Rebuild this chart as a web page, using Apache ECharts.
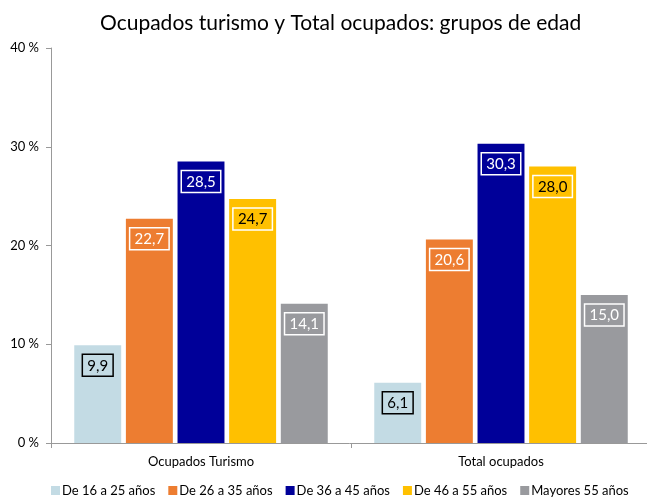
<!DOCTYPE html>
<html>
<head>
<meta charset="utf-8">
<script src="https://cdn.jsdelivr.net/npm/echarts@6/dist/echarts.min.js"></script>
<style>
html,body{margin:0;padding:0;background:#fff;}
#chart{width:647px;height:499px;}
</style>
</head>
<body>
<div id="chart"></div>
<script>
var categories = ['Ocupados Turismo', 'Total ocupados'];
var seriesNames = ['De 16 a 25 años', 'De 26 a 35 años', 'De 36 a 45 años', 'De 46 a 55 años', 'Mayores 55 años'];
var edad16_25 = [9.9, 6.1];
var edad26_35 = [22.7, 20.6];
var edad36_45 = [28.5, 30.3];
var edad46_55 = [24.7, 28.0];
var mayores55 = [14.1, 15.0];
var yTicks = [0, 10, 20, 30, 40];

var colors = ['#C3DBE4', '#ED7D31', '#000099', '#FFC000', '#999A9E'];
var textColors = ['#000', '#fff', '#fff', '#000', '#fff'];
var borderColors = ['#000', '#fff', '#fff', '#fff', '#fff'];
var allData = [edad16_25, edad26_35, edad36_45, edad46_55, mayores55];

var chart = echarts.init(document.getElementById('chart'));

var series = [];
for (var i = 0; i < allData.length; i++) {
	series.push({
		name: seriesNames[i],
		type: 'bar',
		data: allData[i],
		barGap: '10%',
		barCategoryGap: '15.5%',
		itemStyle: { color: colors[i] },
		label: {
			show: true,
			position: 'insideTop',
			distance: 9,
			fontFamily: 'Lato',
			fontSize: 15,
			color: textColors[i],
			borderColor: borderColors[i],
			borderWidth: 1.5,
			padding: [4, 5, 3, 5],
			formatter: function (p) {
				return p.value.toFixed(1).replace('.', ',');
			}
		}
	});
}

var option = {
	animation: false,
	textStyle: { fontFamily: 'Lato' },
	title: {
		text: 'Ocupados turismo y Total ocupados: grupos de edad',
		left: 95,
		top: 8,
		textStyle: { fontFamily: 'Lato', fontSize: 21, fontWeight: 'normal', color: '#000' }
	},
	legend: {
		data: seriesNames,
		bottom: -3,
		left: 46,
		itemWidth: 9,
		itemHeight: 9,
		itemGap: 13,
		icon: 'rect',
		textStyle: { fontFamily: 'Lato', fontSize: 13, color: '#000', padding: [0, 0, 0, -3] }
	},
	grid: { left: 51, width: 600, top: 48, bottom: 56, outerBoundsMode: 'none' },
	xAxis: {
		type: 'category',
		data: categories,
		axisLine: { lineStyle: { color: '#999' } },
		axisTick: { show: true, length: 5, lineStyle: { color: '#999' } },
		axisLabel: { fontFamily: 'Lato', fontSize: 13, color: '#000', margin: 12 }
	},
	yAxis: {
		type: 'value',
		min: yTicks[0],
		max: yTicks[yTicks.length - 1],
		interval: 10,
		axisLine: { show: true, lineStyle: { color: '#999' } },
		axisTick: { show: true, length: 5, lineStyle: { color: '#999' } },
		splitLine: { show: false },
		axisLabel: { fontFamily: 'Lato', fontSize: 13, color: '#000', margin: 12, formatter: '{value} %' }
	},
	series: series
};
chart.setOption(option);
</script>
</body>
</html>
